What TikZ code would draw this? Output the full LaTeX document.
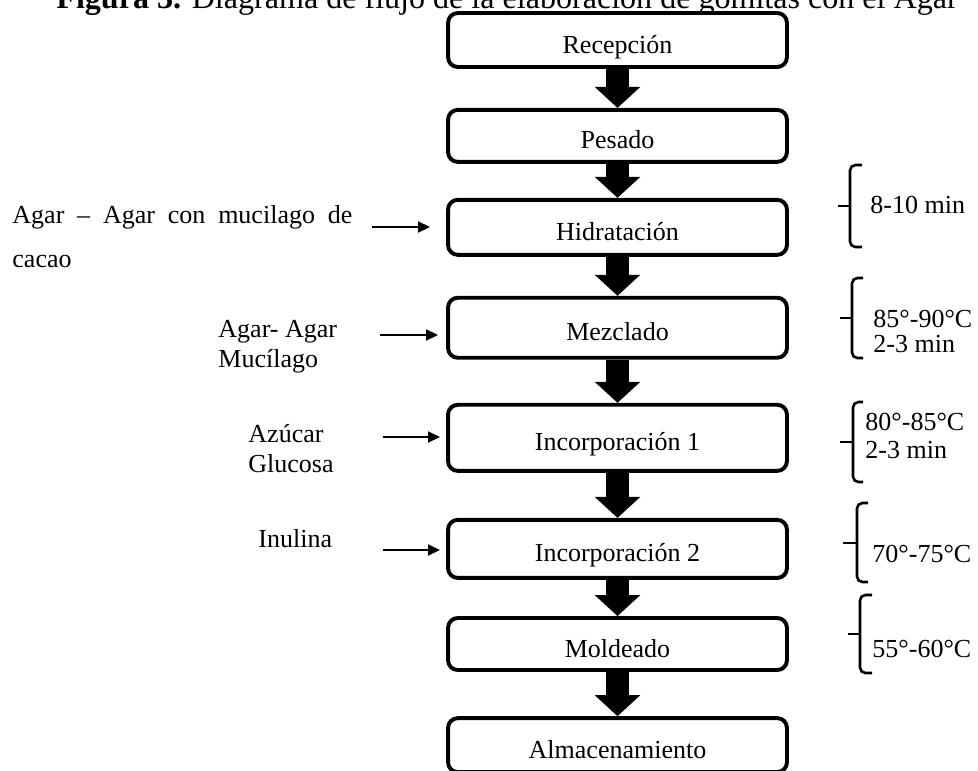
\documentclass[tikz,border=0pt]{standalone}
\usepackage{fontspec}
\setmainfont{Liberation Serif}
\usetikzlibrary{arrows.meta, positioning}

\begin{document}
\begin{tikzpicture}[
    % 1 unit = 1 pixel of the original figure
    x=0.4615pt, y=-0.4615pt,
    font=\fontsize{12}{14}\selectfont,
    % Process steps: rounded boxes
    stepbox/.style={
        draw, line width=1.8pt, rounded corners=4.5pt,
        minimum width=156.4pt, align=center,
        text height=12pt, text depth=0pt
    },
    % Thick block arrows between steps
    flow/.style={
        line width=10.2pt,
        -{Triangle[length=9.7pt, width=20.5pt]}
    },
    % Thin arrows for the ingredients
    feed/.style={
        line width=0.9pt,
        -{Triangle[length=5.5pt, width=5pt]}
    },
    % Side notes (anchored on the last line)
    note/.style={anchor=base west, inner sep=0pt, align=left},
    % Braces with the conditions
    bracket/.style={line width=1.2pt, rounded corners=2.5pt}
]
\useasboundingbox (0,0) rectangle (978,770);

% --- TITLE ---
\node (title) [anchor=base west, inner sep=0pt, font=\fontsize{14.8}{16}\selectfont] at (56,8)
    {\textbf{Figura 3.} Diagrama de flujo de la elaboración de gomitas con el Agar};

% --- PROCESS STEPS ---
\node (rec) [stepbox, minimum height=24.9pt] at (617.5,40) {Recepción};
\node (pes) [stepbox, minimum height=24pt, below=18pt of rec] {Pesado};
\node (hid) [stepbox, minimum height=25.4pt, below=15.7pt of pes] {Hidratación};
\node (mez) [stepbox, minimum height=27.7pt, below=18pt of hid] {Mezclado};
\node (inc1) [stepbox, minimum height=30.5pt, below=19.9pt of mez] {Incorporación 1};
\node (inc2) [stepbox, minimum height=26.8pt, below=20.8pt of inc1] {Incorporación 2};
\node (mol) [stepbox, minimum height=24pt, below=16.7pt of inc2] {Moldeado};
\node (alm) [stepbox, minimum height=24.9pt, below=20.4pt of mol] {Almacenamiento};

% --- MAIN FLOW ---
\draw [flow] (rec.south) -- (pes.north);
\draw [flow] (pes.south) -- (hid.north);
\draw [flow] (hid.south) -- (mez.north);
\draw [flow] (mez.south) -- (inc1.north);
\draw [flow] (inc1.south) -- (inc2.north);
\draw [flow] (inc2.south) -- (mol.north);
\draw [flow] (mol.south) -- (alm.north);

% --- INGREDIENTS ---
\node (agarcacao) [note, font=\fontsize{12}{20.3}\selectfont] at (12,267)
    {\makebox[156.9pt][s]{Agar – Agar con mucilago de}\\cacao};
\node (agarmuc) [note, font=\fontsize{12}{13.8}\selectfont] at (218,367) {Agar- Agar\\Mucílago};
\node (azuglu) [note, font=\fontsize{12}{13.4}\selectfont] at (248,472) {Azúcar\\Glucosa};
\node (inulina) [note] at (258,547) {Inulina};

\coordinate (feedhid) at (372,227);
\coordinate (feedmez) at (380,335);
\coordinate (feedinc1) at (383,437);
\coordinate (feedinc2) at (383,550);
\draw [feed, shorten >=7.4pt] (feedhid) -- (feedhid -| hid.west);
\draw [feed, shorten >=3.7pt] (feedmez) -- (feedmez -| mez.west);
\draw [feed, shorten >=2.8pt] (feedinc1) -- (feedinc1 -| inc1.west);
\draw [feed, shorten >=2.8pt] (feedinc2) -- (feedinc2 -| inc2.west);

% --- CONDITIONS ---
\node (cond1) [note] at (870,213) {8-10 min};
\node (cond2) [note, font=\fontsize{12}{11.5}\selectfont] at (873,352) {85°-90°C\\2-3 min};
\node (cond3) [note, font=\fontsize{12}{12.9}\selectfont] at (865,458) {80°-85°C\\2-3 min};
\node (cond4) [note] at (872,562) {70°-75°C};
\node (cond5) [note] at (872,657) {55°-60°C};

\draw [bracket] (862,165) -| (850,247) -- (862,247);
\draw [bracket] (838,206) -- (850,206);
\draw [bracket] (863,278) -| (852,358) -- (863,358);
\draw [bracket] (840,318) -- (852,318);
\draw [bracket] (863,402) -| (853,482) -- (863,482);
\draw [bracket] (840,442) -- (853,442);
\draw [bracket] (868,503) -| (857,582) -- (868,582);
\draw [bracket] (843,543) -- (857,543);
\draw [bracket] (872,595) -| (860,673) -- (872,673);
\draw [bracket] (848,634) -- (860,634);

\end{tikzpicture}
\end{document}
